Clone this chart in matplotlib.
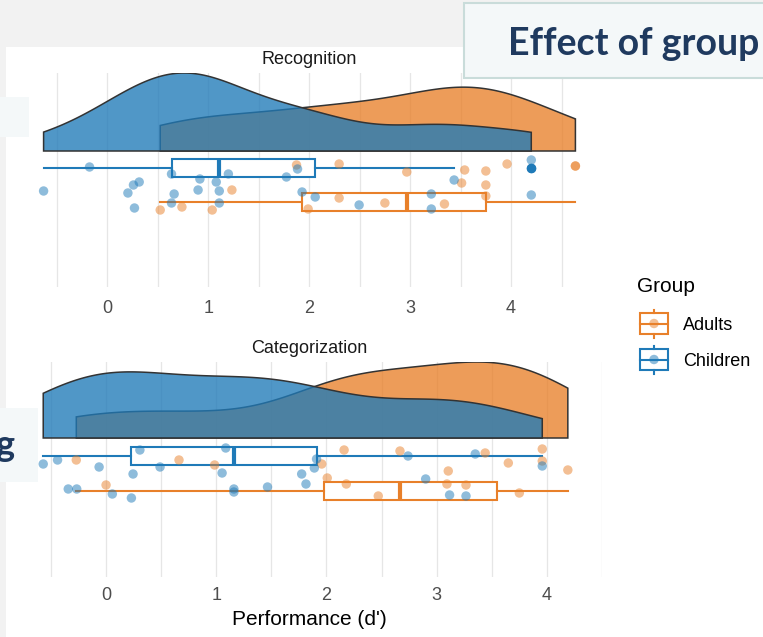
import numpy as np
import matplotlib
matplotlib.use("Agg")
import matplotlib.pyplot as plt
from matplotlib.patches import Rectangle, Polygon
from matplotlib.colors import to_rgba

plt.rcParams["font.family"] = ["Liberation Sans", "DejaVu Sans"]

# ---------------- data: d' scores per task and group ----------------
rec_children = [-0.63, -0.175, 0.205, 0.26, 0.317, 0.27, 0.637, 0.663, 0.637, 0.918,
                0.90, 1.08, 1.20, 1.11, 1.11, 1.775, 1.885, 1.93, 2.06, 2.495,
                3.21, 3.21, 3.436, 4.2, 4.2]
rec_adults = [0.525, 0.74, 1.04, 1.235, 1.875, 1.99, 2.297, 2.297, 2.75, 2.967,
              3.34, 3.51, 3.54, 3.75, 3.75, 3.75, 3.96, 4.637, 4.637]
cat_children = [-0.57, -0.44, -0.343, -0.266, -0.063, 0.057, 0.23, 0.245, 0.307, 0.49,
                1.053, 1.086, 1.16, 1.16, 1.465, 1.775, 1.814, 1.89, 1.91, 2.74,
                2.90, 3.117, 3.266, 3.35, 3.958]
cat_adults = [-0.27, 0.0, 0.662, 0.985, 1.957, 2.007, 2.16, 2.18, 2.47, 2.667,
              3.093, 3.105, 3.266, 3.44, 3.65, 3.75, 3.958, 3.958, 4.19]

# vertical jitter of each point (downwards, same order as the scores)
rec_children_jit = [6, -18, 8, 0, -3, 23, -11, 9, 18, -6, 5, -3, -11, 6, 18, -8, -16, 7,
                    12, 20, 9, 24, -5, -25, 10]
rec_adults_jit = [25, 22, 25, 5, -20, 24, -21, 13, 18, -13, 19, -2, -15, -14, 0, 11, -21,
                  -19, -19]
cat_children_jit = [-9, -13, 16, 16, -6, 21, 25, 1, -23, -6, 0, -25, 16, 19, 14, 1, 11, -5,
                    -14, -17, 6, 22, 23, -19, -7]
cat_adults_jit = [-13, 12, -13, -8, -9, 5, -23, 11, 23, -22, 11, -2, 12, -20, -10, 20, -24,
                  -12, -3]

groups = ["Adults", "Children"]
panel_titles = ["Recognition", "Categorization"]
x_ticks = [0, 1, 2, 3, 4]

COL = {"Adults": "#e8802a", "Children": "#1f7ab8"}

W, H = 763, 637
fig = plt.figure(figsize=(W / 100, H / 100), dpi=100)
fig.patch.set_facecolor("white")


def fr(x0, y0, x1, y1):
    """pixel box (top-left origin) -> figure fraction rect"""
    return [x0 / W, 1 - y1 / H, (x1 - x0) / W, (y1 - y0) / H]


# slide background pieces
bg = fig.add_axes([0, 0, 1, 1], zorder=-5)
bg.set_xlim(0, W)
bg.set_ylim(H, 0)
bg.axis("off")
bg.add_patch(Rectangle((0, 0), W, 47, facecolor="#f2f2f2", edgecolor="none"))
bg.add_patch(Rectangle((0, 0), 6, H, facecolor="#f2f2f2", edgecolor="none"))

# foreground slide boxes
fg = fig.add_axes([0, 0, 1, 1], zorder=10)
fg.set_xlim(0, W)
fg.set_ylim(H, 0)
fg.axis("off")
fg.patch.set_alpha(0)
fg.add_patch(Rectangle((464, 3), 320, 75, facecolor="#f4f8f9", edgecolor="#c9dcda", lw=1.5))
fg.text(508, 55, "Effect of group", family=["Lato", "DejaVu Sans"], fontweight="bold",
        fontsize=27, color="#1f3a5f", ha="left", va="baseline", clip_on=True)
fg.add_patch(Rectangle((-5, 97), 34, 40, facecolor="#f4f8f9", edgecolor="none"))
fg.add_patch(Rectangle((-5, 408), 43, 74, facecolor="#f4f8f9", edgecolor="none"))
fg.text(14, 456, "g", family=["Lato", "DejaVu Sans"], fontweight="bold",
        fontsize=26, color="#1f3a5f", ha="right", va="baseline")


def kde(vals, n=512):
    """Gaussian density (nrd0 bandwidth), trimmed to the data range."""
    v = np.asarray(vals, float)
    q75, q25 = np.percentile(v, [75, 25])
    bw = 0.9 * min(v.std(ddof=1), (q75 - q25) / 1.34) * len(v) ** -0.2
    g = np.linspace(v.min(), v.max(), n)
    d = np.exp(-0.5 * ((g[:, None] - v[None, :]) / bw) ** 2).sum(1) / (len(v) * bw * np.sqrt(2 * np.pi))
    return g, d


panels = [
    dict(title=panel_titles[0], rect=(17, 73, 602, 287), ylim=(-136, 78), dens_h=78,
         pt_center=-34, box_y={"Children": -17, "Adults": -51}, pad=9.5,
         data={"Adults": rec_adults, "Children": rec_children},
         jit={"Adults": rec_adults_jit, "Children": rec_children_jit}),
    dict(title=panel_titles[1], rect=(17, 362, 602, 577), ylim=(-139, 76), dens_h=76,
         pt_center=-35, box_y={"Children": -17.5, "Adults": -52.5}, pad=7.5,
         data={"Adults": cat_adults, "Children": cat_children},
         jit={"Adults": cat_adults_jit, "Children": cat_children_jit}),
]

for p in panels:
    ax = fig.add_axes(fr(*p["rect"]))
    allv = np.concatenate([p["data"][g] for g in groups])
    lo, hi = allv.min(), allv.max()
    m = 0.05 * (hi - lo)
    ax.set_xlim(lo - m, hi + m)
    ax.set_ylim(*p["ylim"])
    for s in ax.spines.values():
        s.set_visible(False)
    ax.set_yticks([])
    ax.set_xticks(x_ticks)
    ax.set_xticks(np.arange(-0.5, 5.0, 1.0), minor=True)
    ax.tick_params(axis="x", which="both", length=0, pad=p["pad"], labelsize=13,
                   labelcolor="#4d4d4d")
    ax.grid(True, axis="x", which="both", color="#e6e6e6", lw=0.9)
    ax.set_axisbelow(True)
    ax.set_title(p["title"], fontsize=13, color="#1a1a1a", pad=6.5)

    # half-violin densities (equal-area scaling within the panel)
    curves = {g: kde(p["data"][g]) for g in groups}
    sc = p["dens_h"] / max(c[1].max() for c in curves.values())
    for g in groups:
        gx, gd = curves[g]
        xs = np.concatenate([[gx[0]], gx, [gx[-1]]])
        ys = np.concatenate([[0], gd * sc, [0]])
        ax.add_patch(Polygon(np.column_stack([xs, ys]), closed=True,
                             facecolor=to_rgba(COL[g], 0.78), edgecolor="#333333",
                             lw=1.1, zorder=2))

    # boxplots (Tukey whiskers, outliers drawn solid at the box line)
    for g in groups:
        c = COL[g]
        kw = dict(positions=[p["box_y"][g]], widths=18, patch_artist=True,
                  showcaps=False, whis=1.5, manage_ticks=False,
                  boxprops=dict(facecolor="white", edgecolor=c, lw=1.5),
                  whiskerprops=dict(color=c, lw=1.5),
                  medianprops=dict(color=c, lw=3.0, solid_capstyle="butt"),
                  flierprops=dict(marker="o", markerfacecolor=c, markeredgecolor="none",
                                  markersize=6.8),
                  zorder=3)
        try:
            ax.boxplot([p["data"][g]], orientation="horizontal", **kw)
        except TypeError:
            ax.boxplot([p["data"][g]], vert=False, **kw)

    # jittered raw scores
    for g in groups:
        xv = np.asarray(p["data"][g])
        yv = p["pt_center"] - np.asarray(p["jit"][g])
        ax.scatter(xv, yv, s=46, color=COL[g], alpha=0.5, edgecolors="none", zorder=4)

    if p is panels[-1]:
        ax.set_xlabel("Performance (d')", fontsize=15, color="black", labelpad=4)

# legend
lg = fig.add_axes([0, 0, 1, 1], zorder=5)
lg.set_xlim(0, W)
lg.set_ylim(H, 0)
lg.axis("off")
lg.patch.set_alpha(0)
lg.text(637, 286.5, "Group", fontsize=15, color="black", va="center", ha="left")
for g, cy in zip(groups, [323.5, 359.5]):
    c = COL[g]
    lg.plot([654, 654], [cy - 14, cy - 10.5], color=c, lw=1.5)
    lg.plot([654, 654], [cy + 10.5, cy + 14], color=c, lw=1.5)
    lg.add_patch(Rectangle((640, cy - 10.5), 28, 21, facecolor="white", edgecolor=c, lw=1.5))
    lg.plot([640, 668], [cy, cy], color=c, lw=1.5)
    lg.scatter([654], [cy], s=46, color=c, alpha=0.5, edgecolors="none", zorder=4)
    lg.text(683, cy + 1.5, g, fontsize=13, color="black", va="center", ha="left")

fig.savefig("out.png", dpi=100, facecolor=fig.get_facecolor())
